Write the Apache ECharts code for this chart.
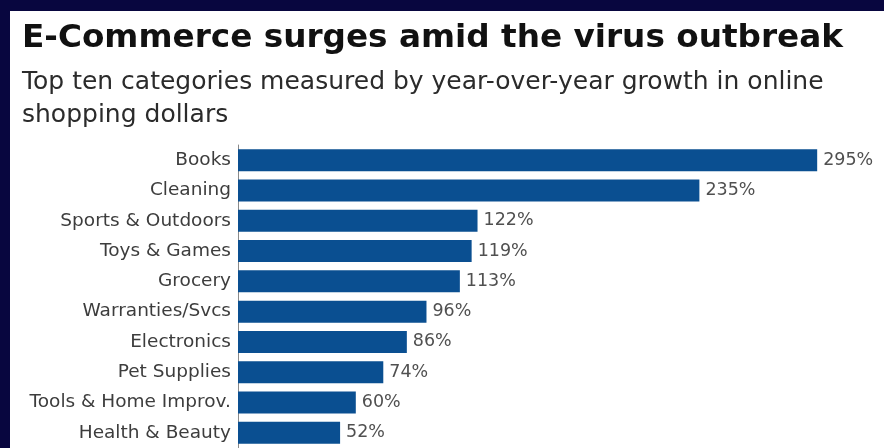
<!DOCTYPE html>
<html>
<head>
<meta charset="utf-8">
<script src="https://cdn.jsdelivr.net/npm/echarts@6/dist/echarts.min.js"></script>
<style>
html,body{margin:0;padding:0;background:#08063f;}
#chart{width:884px;height:448px;}
</style>
</head>
<body>
<div id="chart"></div>
<script>
const categories = ["Books","Cleaning","Sports & Outdoors","Toys & Games","Grocery","Warranties/Svcs","Electronics","Pet Supplies","Tools & Home Improv.","Health & Beauty"];
const growth = [295,235,122,119,113,96,86,74,60,52];
const titleText = "E-Commerce surges amid the virus outbreak";
const subtitleText = "Top ten categories measured by year-over-year growth in online\nshopping dollars";

const FONT = "'DejaVu Sans', sans-serif";
const chart = echarts.init(document.getElementById('chart'));
chart.setOption({
  backgroundColor: '#08063f',
  animation: false,
  graphic: [{
    type: 'rect', left: 10, top: 11, z: -10,
    shape: {width: 874, height: 437},
    style: {fill: '#ffffff'}
  }],
  title: [{
    text: titleText, left: 22, top: 23, padding: 0,
    textStyle: {fontFamily: FONT, fontWeight: 'bold', fontSize: 32.7, color: '#111111', lineHeight: 31}
  }, {
    text: subtitleText, left: 22, top: 66, padding: 0,
    textStyle: {fontFamily: FONT, fontWeight: 'normal', fontSize: 25, color: '#2b2b2b', lineHeight: 33}
  }],
  grid: {left: 238, right: 57, top: 145, bottom: 0, containLabel: false},
  xAxis: {
    type: 'value', min: 0, max: 300, show: false
  },
  yAxis: {
    type: 'category', data: categories, inverse: true,
    axisLine: {show: true, lineStyle: {color: '#8a8a8a', width: 1}},
    axisTick: {show: false},
    axisLabel: {fontFamily: FONT, fontSize: 18.5, color: '#3d3d3d', margin: 7}
  },
  series: [{
    type: 'bar', data: growth, barWidth: 22,
    itemStyle: {color: '#0a4f91'},
    label: {show: true, position: 'right', distance: 6, formatter: '{c}%',
      fontFamily: FONT, fontSize: 17.5, color: '#505050'}
  }]
});
</script>
</body>
</html>
